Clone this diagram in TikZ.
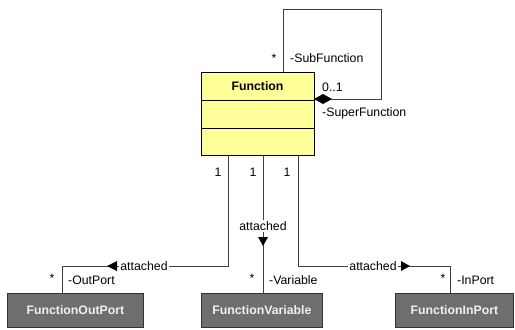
\documentclass[tikz,border=0pt]{standalone}
\usepackage{fontspec}
\setmainfont{Liberation Sans}
\usetikzlibrary{calc}
\definecolor{clsyellow}{HTML}{FFFF99}
\definecolor{clsgray}{HTML}{6E6E6E}
\definecolor{linegray}{HTML}{404040}
\tikzset{
  cls/.style={draw=black, line width=0.8bp, fill=clsyellow, minimum width=113bp, minimum height=83bp, inner sep=0pt},
  sub/.style={draw=black!80, line width=0.8bp, fill=clsgray, text=white!94!black, font=\bfseries\fontsize{12.3bp}{14bp}\selectfont, minimum height=34bp, inner sep=0pt},
  conn/.style={draw=linegray, line width=0.8bp},
  lbl/.style={font=\fontsize{12.3bp}{14bp}\selectfont, inner sep=0pt, text=black},
  onl/.style={lbl, fill=white, inner xsep=1bp, inner ysep=1bp},
  tri/.style={fill=black}
}
\begin{document}
\begin{tikzpicture}[x=1bp,y=-1bp]
\useasboundingbox (0,0) rectangle (515,329);
% classes
\node[cls, anchor=north west] (fn) at (201,72) {};
\node[lbl, font=\bfseries\fontsize{12.3bp}{14bp}\selectfont] (fntitle) at (257.5,86) {Function};
\draw[line width=0.8bp] (201,100) -- (314,100);
\draw[line width=0.8bp] (201,128) -- (314,128);
\node[sub, minimum width=136bp, anchor=north west] (outp) at (7,293) {FunctionOutPort};
\node[sub, minimum width=121bp, anchor=north west] (varb) at (201,293) {FunctionVariable};
\node[sub, minimum width=118bp, anchor=north west] (inp) at (395,293) {FunctionInPort};
% self association
\coordinate (s1) at (283,9);
\coordinate (s2) at (381,99);
\draw[conn] (fn.north -| s1) -- (s1) -| (s2) -- (fn.east |- s2);
\path[tri] (314,99) -- (323,94) -- (332,99) -- (323,104) -- cycle;
\node[lbl] (st1) at (274,58) {*};
\node[lbl, anchor=west] (subf) at (290,58) {-SubFunction};
\node[lbl, anchor=west] (zo) at (322,87) {0..1};
\node[lbl, anchor=west] (supf) at (322,113) {-SuperFunction};
% bottom connectors
\coordinate (b1) at (228,266);
\coordinate (b2) at (263,0);
\coordinate (b3) at (298,266);
\coordinate (o1) at (62,0);
\coordinate (i1) at (450,0);
\draw[conn] (fn.south -| b1) -- (b1) -| (outp.north -| o1);
\draw[conn] (fn.south -| b2) -- (varb.north -| b2);
\draw[conn] (fn.south -| b3) -- (b3) -| (inp.north -| i1);
\node[lbl] (one1) at (218,172) {1};
\node[lbl] (one2) at (253,172) {1};
\node[lbl] (one3) at (287,172) {1};
% attached labels and direction triangles
\node[onl] (at1) at (144,266) {attached};
\path[tri] (107,266) -- (117,261) -- (117,271) -- cycle;
\node[onl] (at2) at (263,226) {attached};
\path[tri] (263,246) -- (258,237) -- (268,237) -- cycle;
\node[onl] (at3) at (373,266) {attached};
\path[tri] (410,266) -- (401,261) -- (401,271) -- cycle;
% role labels
\node[lbl] (st2) at (52,278) {*};
\node[lbl, anchor=west] (rop) at (68,280) {-OutPort};
\node[lbl] (st3) at (252,278) {*};
\node[lbl, anchor=west] (rvar) at (269,280) {-Variable};
\node[lbl] (st4) at (443,278) {*};
\node[lbl, anchor=west] (rinp) at (457,280) {-InPort};
\end{tikzpicture}
\end{document}
